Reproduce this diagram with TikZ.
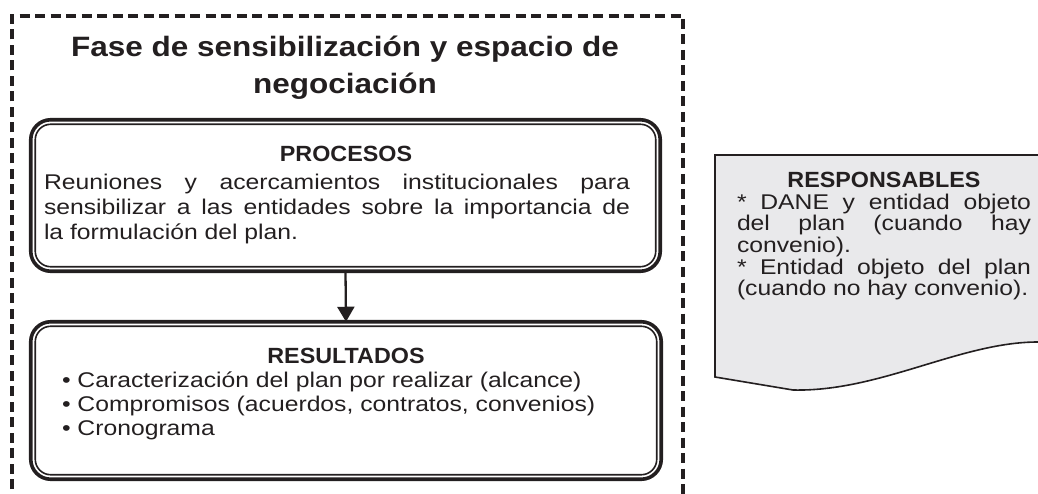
\documentclass[tikz,border=0pt]{standalone}
\usepackage{fontspec}
\setmainfont{Liberation Sans}
\newfontfamily\bodyf{Liberation Sans}[FakeStretch=1.16]
\newfontfamily\headf{Liberation Sans}[FakeStretch=1.06]
\newfontfamily\titlef{Liberation Sans}[FakeStretch=1.125]
\usetikzlibrary{arrows.meta}
\definecolor{ink}{HTML}{231F20}
\definecolor{paper}{HTML}{E9E9EB}
\begin{document}
\begin{tikzpicture}[x=1pt,y=-1pt,
  every node/.style={inner sep=0pt, outer sep=0pt, text=ink},
  body/.style={font=\bodyf\fontsize{21.3}{25}\selectfont, anchor=base west},
  head/.style={font=\headf\bfseries\fontsize{22}{25}\selectfont, anchor=base},
  ttl/.style={font=\titlef\bfseries\fontsize{28}{30}\selectfont, anchor=base},
  dblbox/.style={draw=ink, line width=3.6pt, rounded corners=20pt, rectangle},
  innerline/.style={draw=ink, line width=1.6pt, rounded corners=15.5pt},
  dashframe/.style={draw=ink, line width=3.3pt, dash pattern=on 10pt off 5.5pt},
  flow/.style={draw=ink, line width=2.3pt, -{Triangle[length=15pt,width=17pt]}},
  docshape/.style={draw=ink, line width=1.6pt, fill=paper},
]
\useasboundingbox (0,0) rectangle (1038,494);

% dashed frame
\draw[dashframe] (12,520) -- (12,16) -- (683,16) -- (683,520);

% title
\node[ttl] (t1) at (345,57) {Fase de sensibilización y espacio de};
\node[ttl] (t2) at (345,94) {negociación};

% PROCESOS box
\node[dblbox, minimum width=629.5pt, minimum height=151.5pt] (proc) at (345.5,195.5) {};
\draw[innerline] ([xshift=4.5pt,yshift=-4.5pt]proc.north west) rectangle ([xshift=-4.5pt,yshift=4.5pt]proc.south east);
\node[head] (ph) at (346,162) {PROCESOS};
\node[body] (p1) at (44,190) {\makebox[586pt][s]{Reuniones y acercamientos institucionales para}};
\node[body] (p2) at (44,215) {\makebox[586pt][s]{sensibilizar a las entidades sobre la importancia de}};
\node[body] (p3) at (44,240) {la formulación del plan.};

% RESULTADOS box
\node[dblbox, minimum width=630.5pt, minimum height=157.5pt] (res) at (346,400.5) {};
\draw[innerline] ([xshift=4.5pt,yshift=-4.5pt]res.north west) rectangle ([xshift=-4.5pt,yshift=4.5pt]res.south east);
\node[head] (rh) at (346,363) {RESULTADOS};
\node[body] (r1) at (62,387) {• Caracterización del plan por realizar (alcance)};
\node[body] (r2) at (62,411) {• Compromisos (acuerdos, contratos, convenios)};
\node[body] (r3) at (62,435) {• Cronograma};

% arrow
\draw[flow] (proc.south) -- (res.north);

% RESPONSABLES document shape
\draw[docshape] (715,155) -- (1060,155) -- (1060,342) -- (1038,342)
  .. controls (960,342) and (880,392) .. (793,390) -- (715,377) -- cycle;
\node[head] (sh) at (884,188) {RESPONSABLES};
\node[body] (s1) at (737,210) {\makebox[294pt][s]{* DANE y entidad objeto}};
\node[body] (s2) at (737,231) {\makebox[294pt][s]{del plan (cuando hay}};
\node[body] (s3) at (737,253) {convenio).};
\node[body] (s4) at (737,274) {\makebox[294pt][s]{* Entidad objeto del plan}};
\node[body] (s5) at (737,295) {(cuando no hay convenio).};
\end{tikzpicture}
\end{document}
